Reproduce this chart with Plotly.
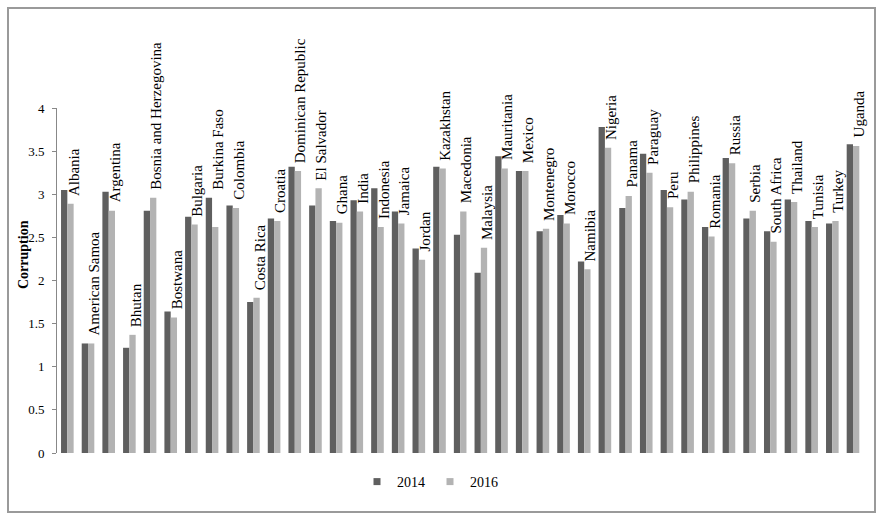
import plotly.graph_objects as go

countries = [
    "Albania", "American Samoa", "Argentina", "Bhutan", "Bosnia and Herzegovina",
    "Bostwana", "Bulgaria", "Burkina Faso", "Colombia", "Costa Rica", "Croatia",
    "Dominican Republic", "El Salvador", "Ghana", "India", "Indonesia", "Jamaica",
    "Jordan", "Kazakhstan", "Macedonia", "Malaysia", "Mauritania", "Mexico",
    "Montenegro", "Morocco", "Namibia", "Nigeria", "Panama", "Paraguay", "Peru",
    "Philippines", "Romania", "Russia", "Serbia", "South Africa", "Thailand",
    "Tunisia", "Turkey", "Uganda",
]
v2014 = [
    3.05, 1.27, 3.03, 1.22, 2.81, 1.64, 2.74, 2.96, 2.87, 1.75, 2.72,
    3.32, 2.87, 2.69, 2.93, 3.07, 2.80, 2.37, 3.32, 2.53, 2.09, 3.44, 3.27,
    2.57, 2.76, 2.22, 3.78, 2.84, 3.47, 3.05, 2.94, 2.62, 3.42, 2.72, 2.57,
    2.94, 2.69, 2.66, 3.58,
]
v2016 = [
    2.89, 1.27, 2.81, 1.37, 2.96, 1.57, 2.65, 2.62, 2.84, 1.80, 2.69,
    3.27, 3.07, 2.67, 2.80, 2.62, 2.66, 2.24, 3.30, 2.80, 2.38, 3.30, 3.27,
    2.60, 2.66, 2.13, 3.54, 2.98, 3.25, 2.85, 3.03, 2.51, 3.36, 2.81, 2.45,
    2.91, 2.62, 2.69, 3.56,
]
y_ticks = [0, 0.5, 1, 1.5, 2, 2.5, 3, 3.5, 4]
# labels that sit on the 2014 bar instead of the 2016 one
label_on_2014 = {"Burkina Faso"}

dark = "#5f5f5f"
light = "#b3b3b3"
serif = "Liberation Serif, Times New Roman, serif"

# plot area in pixels (884x520 page)
L, R, T, B = 57, 869, 108, 453
W, H = 884, 520


def px_x(p):
    return (p - L) / (R - L)


def px_y(p):
    return (B - p) / (B - T)


fig = go.Figure()
fig.add_trace(go.Bar(name="2014", x=countries, y=v2014, marker_color=dark,
                     marker_line_width=0, showlegend=False))
fig.add_trace(go.Bar(name="2016", x=countries, y=v2016, marker_color=light,
                     marker_line_width=0, showlegend=False))
# legend entries with small square swatches
for name, col in [("2014", dark), ("2016", light)]:
    fig.add_trace(go.Scatter(x=[None], y=[None], mode="markers", name=name,
                             marker=dict(symbol="square", size=7, color=col)))

for c, a, b in zip(countries, v2014, v2016):
    fig.add_annotation(
        x=c, y=a if c in label_on_2014 else b,
        text=c, textangle=-90, showarrow=False,
        xanchor="center", yanchor="bottom", xshift=6, yshift=6,
        font=dict(family=serif, size=15, color="black"),
    )

fig.add_annotation(
    x=px_x(23), y=px_y(255), xref="paper", yref="paper",
    text="<b>Corruption</b>", textangle=-90, showarrow=False,
    xanchor="center", yanchor="middle",
    font=dict(family=serif, size=14, color="black"),
)

fig.add_shape(
    type="rect", xref="paper", yref="paper",
    x0=px_x(8), x1=px_x(875), y0=px_y(512), y1=px_y(8),
    line=dict(color="#9a9a9a", width=2), fillcolor="rgba(0,0,0,0)",
)

fig.update_layout(
    width=W, height=H,
    margin=dict(l=L, r=W - R, t=T, b=H - B, autoexpand=False),
    barmode="group", bargap=0.39, bargroupgap=0,
    paper_bgcolor="white", plot_bgcolor="white",
    font=dict(family=serif, size=13, color="black"),
    legend=dict(orientation="h", x=px_x(430), xanchor="center",
                y=px_y(482), yanchor="middle",
                font=dict(family=serif, size=14, color="black"),
                itemwidth=30, bgcolor="rgba(0,0,0,0)"),
)
fig.update_xaxes(showticklabels=False, showline=False, ticks="",
                 showgrid=False, zeroline=False)
fig.update_yaxes(range=[0, 4], tickvals=y_ticks,
                 ticktext=[f"{t:g}" for t in y_ticks],
                 showline=True, linecolor="#888888", linewidth=1,
                 ticks="outside", ticklen=4, tickcolor="#888888",
                 ticklabelstandoff=5, showgrid=False, zeroline=False,
                 tickfont=dict(family=serif, size=13, color="black"))

fig.write_html("out.html", config={"displayModeBar": False},
               post_script="document.body.style.margin='0';")
